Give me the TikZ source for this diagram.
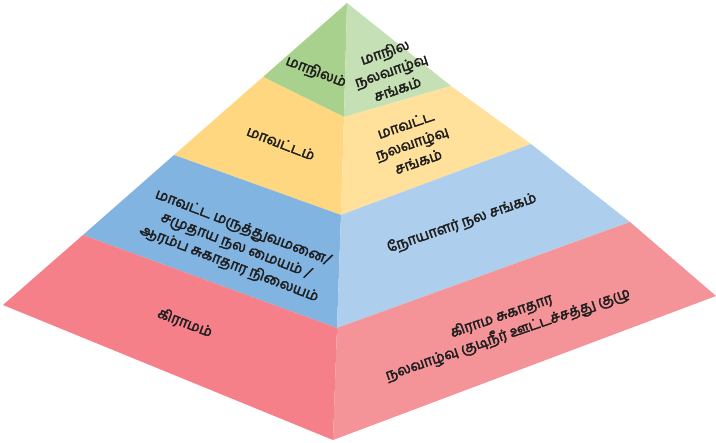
\documentclass[tikz,border=0pt]{standalone}
\usepackage{fontspec}
\newfontfamily\tamil[Script=Tamil, FakeBold=2.6]{Hind Madurai}
\definecolor{greenL}{HTML}{A9D18E}
\definecolor{greenR}{HTML}{C5E0B4}
\definecolor{yellowL}{HTML}{FFD780}
\definecolor{yellowR}{HTML}{FFE19C}
\definecolor{blueL}{HTML}{82B4E2}
\definecolor{blueR}{HTML}{AECEEE}
\definecolor{redL}{HTML}{F58089}
\definecolor{redR}{HTML}{F49499}
\definecolor{ink}{HTML}{1E1E1E}
\tikzset{
  lbl/.style={text=ink, font=\tamil\fontsize{14.5}{19.5}\selectfont, align=center, inner sep=0pt},
  leftlbl/.style={lbl, rotate=-21},
  rightlbl/.style={lbl, rotate=19},
}
\begin{document}
\begin{tikzpicture}[x=1pt, y=-1pt]
\useasboundingbox (0,0) rectangle (716,443);
% apex, ridge and the two outer edges of the pyramid
\coordinate (A)   at (347,3);
\coordinate (R1)  at (344,117);
\coordinate (R2)  at (341,215);
\coordinate (R3)  at (337,328);
\coordinate (B)   at (333,440);
\coordinate (L1)  at (263,77);
\coordinate (L2)  at (174,155);
\coordinate (L3)  at (83,235);
\coordinate (L4)  at (3,305);
\coordinate (Rt1) at (451,86);
\coordinate (Rt2) at (531,144);
\coordinate (Rt3) at (630,222);
\coordinate (Rt4) at (716,296);
% top tier
\fill[greenL]  (A) -- (L1) -- (R1) -- cycle;
\fill[greenR]  (A) -- (R1) -- (Rt1) -- cycle;
% second tier
\fill[yellowL] (L1) -- (L2) -- (R2) -- (R1) -- cycle;
\fill[yellowR] (R1) -- (R2) -- (Rt2) -- (Rt1) -- cycle;
% third tier
\fill[blueL]   (L2) -- (L3) -- (R3) -- (R2) -- cycle;
\fill[blueR]   (R2) -- (R3) -- (Rt3) -- (Rt2) -- cycle;
% base tier
\fill[redL]    (L3) -- (L4) -- (B) -- (R3) -- cycle;
\fill[redR]    (R3) -- (B) -- (Rt4) -- (Rt3) -- cycle;
% labels
\node[leftlbl]  (t1l) at (316,72)  {மாநிலம்};
\node[rightlbl] (t1r) at (391,70)  {மாநில\\நலவாழ்வு\\சங்கம்};
\node[leftlbl]  (t2l) at (281,143) {மாவட்டம்};
\node[rightlbl] (t2r) at (412,143) {மாவட்ட\\நலவாழ்வு\\சங்கம்};
\node[leftlbl]  (t3l) at (236,246) {மாவட்ட மருத்துவமனை/\\சமுதாய நல மையம் /\\ஆரம்ப சுகாதார நிலையம்};
\node[rightlbl] (t3r) at (462,223) {நோயாளர் நல சங்கம்};
\node[leftlbl]  (t4l) at (185,323) {கிராமம்};
\node[rightlbl] (t4r) at (505,326) {கிராம சுகாதார\\நலவாழ்வு குடிநீர் ஊட்டச்சத்து குழு};
\end{tikzpicture}
\end{document}
